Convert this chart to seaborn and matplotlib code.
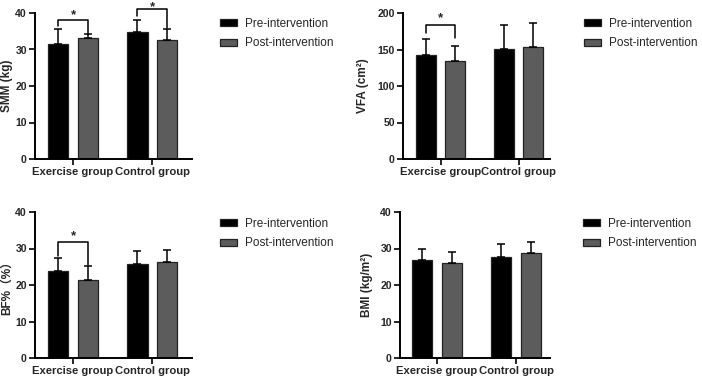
import numpy as np
import pandas as pd
import seaborn as sns
import matplotlib.pyplot as plt

# Data (mean and upper SD)
groups = ['Exercise group', 'Control group']
times = ['Pre-intervention', 'Post-intervention']

smm_pre = [31.6, 34.8]
smm_post = [33.2, 32.5]
smm_pre_sd = [4.0, 3.2]
smm_post_sd = [1.0, 3.2]

vfa_pre = [142.8, 150.6]
vfa_post = [134.0, 152.9]
vfa_pre_sd = [22.2, 32.4]
vfa_post_sd = [20.7, 32.9]

bf_pre = [23.9, 25.8]
bf_post = [21.3, 26.3]
bf_pre_sd = [3.5, 3.4]
bf_post_sd = [3.8, 3.4]

bmi_pre = [26.9, 27.7]
bmi_post = [25.9, 28.7]
bmi_pre_sd = [3.1, 3.4]
bmi_post_sd = [3.2, 3.0]

ylabels = ['SMM (kg)', 'VFA (cm²)', 'BF%（%）', 'BMI (kg/m²)']
ymax = [40, 200, 40, 40]
ystep = [10, 50, 10, 10]

# significance brackets: (panel, group index, left leg y, right leg y, bar y, star y)
brackets = [
    (0, 0, 36.5, 34.2, 38.2, 39.5),
    (0, 1, 39.2, 35.8, 41.0, 41.7),
    (1, 0, 172.5, 165.7, 184.0, 193.0),
    (2, 0, 28.0, 25.6, 31.9, 33.4),
]

sns.set_style('ticks')
plt.rcParams['font.family'] = ['Liberation Sans', 'Noto Sans CJK SC', 'DejaVu Sans']
plt.rcParams['font.weight'] = 'bold'

W, H = 702, 379
fig = plt.figure(figsize=(W / 100, H / 100), dpi=100)

# axes boxes in pixels: left, right, top(ymax), bottom(0)
boxes = [(35, 192, 13, 159), (403, 550, 13, 159), (35, 192, 212, 358), (400, 550, 212, 358)]
xlims = [(-0.48, 1.5), (-0.48, 1.40), (-0.48, 1.5), (-0.47, 1.43)]
label_x = [-0.14, -0.231, -0.14, -0.18]
legend_pos = [(220, 18), (584, 18), (220, 218), (583, 218)]

panels = [
    (smm_pre, smm_post, smm_pre_sd, smm_post_sd),
    (vfa_pre, vfa_post, vfa_pre_sd, vfa_post_sd),
    (bf_pre, bf_post, bf_pre_sd, bf_post_sd),
    (bmi_pre, bmi_post, bmi_pre_sd, bmi_post_sd),
]

palette = {'Pre-intervention': '#000000', 'Post-intervention': '#5c5c5c'}

axes = []
for i, (pre, post, pre_sd, post_sd) in enumerate(panels):
    l, r, t, b = boxes[i]
    ax = fig.add_axes([l / W, 1 - b / H, (r - l) / W, (b - t) / H])
    axes.append(ax)
    df = pd.DataFrame({
        'group': groups * 2,
        'time': [times[0]] * 2 + [times[1]] * 2,
        'value': pre + post,
    })
    sns.barplot(data=df, x='group', y='value', hue='time', order=groups, hue_order=times,
                palette=palette, errorbar=None, width=0.75, gap=0.32,
                edgecolor='#222222', linewidth=0.9, legend=False, ax=ax)

    # upward-only SD error bars on top of each bar
    for cont, sds in zip(ax.containers, [pre_sd, post_sd]):
        xs = [p.get_x() + p.get_width() / 2 for p in cont]
        ys = [p.get_height() for p in cont]
        ax.errorbar(xs, ys, yerr=[np.zeros(len(sds)), sds], fmt='none',
                    ecolor='black', elinewidth=1.1, capsize=2.6, capthick=1.1, zorder=1)

    ax.set_xlim(*xlims[i])
    ax.set_ylim(0, ymax[i])
    ax.set_yticks(np.arange(0, ymax[i] + 1, ystep[i]))
    ax.set_xlabel('')
    ax.set_ylabel(ylabels[i], fontsize=8.5, fontweight='bold')
    ax.yaxis.set_label_coords(label_x[i], 0.5)
    ax.tick_params(axis='both', length=4.3, width=1.2, color='black', pad=1.5)
    ax.tick_params(axis='y', labelsize=7.6)
    ax.tick_params(axis='x', labelsize=8.1)
    for lab in ax.get_xticklabels() + ax.get_yticklabels():
        lab.set_fontweight('bold')
    sns.despine(ax=ax)
    for s in ['left', 'bottom']:
        ax.spines[s].set_linewidth(1.4)
        ax.spines[s].set_color('black')

    lx, ly = legend_pos[i]
    ax.legend(handles=[ax.containers[0][0], ax.containers[1][0]], labels=times,
              loc='upper left', bbox_to_anchor=(lx / W, 1 - ly / H),
              bbox_transform=fig.transFigure, frameon=False, borderpad=0,
              borderaxespad=0, handlelength=1.4, handleheight=0.55,
              handletextpad=0.75, labelspacing=0.62,
              prop={'size': 8.5, 'weight': 'normal'})

# significance brackets
for p, g, yl, yr, ytop, ystar in brackets:
    ax = axes[p]
    x0 = [b.get_x() + b.get_width() / 2 for b in ax.containers[0]][g]
    x1 = [b.get_x() + b.get_width() / 2 for b in ax.containers[1]][g]
    ax.plot([x0, x0, x1, x1], [yl, ytop, ytop, yr], color='black', lw=1.1, clip_on=False)
    ax.text((x0 + x1) / 2, ystar, '*', ha='center', va='center', fontsize=9.5,
            fontweight='bold', clip_on=False)

fig.savefig('out.png', dpi=100)
